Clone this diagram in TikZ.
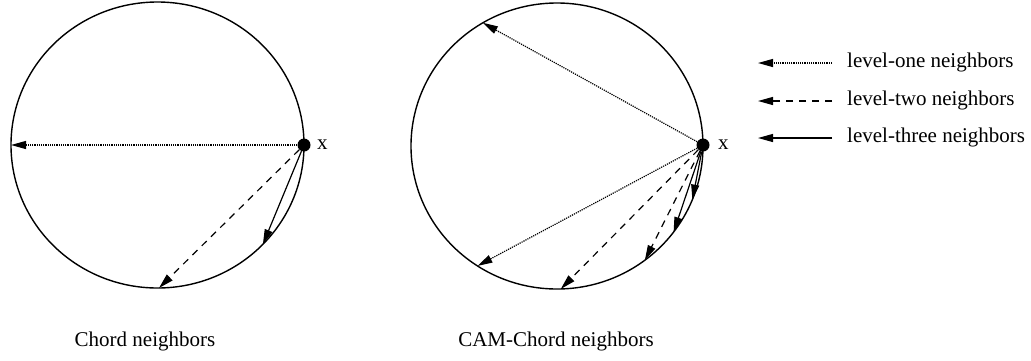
\documentclass[tikz,border=0pt]{standalone}
\usepackage{fontspec}
\setmainfont{Liberation Serif}
\usetikzlibrary{arrows.meta}
\begin{document}
\begin{tikzpicture}[x=1pt,y=-1pt,
  ring/.style={draw, line width=1.4pt},
  hub/.style={circle, fill=black, inner sep=0pt, minimum size=13pt},
  nb/.style={line width=1.2pt, -{Triangle[length=15pt,width=8pt]}},
  lone/.style={nb, dash pattern=on 1.2pt off 1pt},
  ltwo/.style={nb, dash pattern=on 7pt off 6pt},
  lthree/.style={nb},
  lbl/.style={font=\fontsize{21}{25}\selectfont, inner sep=0pt}]
\useasboundingbox (0,0) rectangle (1031,360);

% left ring
\coordinate (cl) at (157.5,145);
\draw[ring] (cl) ellipse [x radius=146.5pt, y radius=143pt];
\path (cl) ++(180:146.5pt and 143pt) coordinate (l1);
\path (cl) ++(-89.4:146.5pt and 143pt) coordinate (l2);
\path (cl) ++(-44:146.5pt and 143pt) coordinate (l3);
\node[hub] (xl) at (304,145) {};
\node[lbl, anchor=west] (xlab1) at (317,145) {x};
\draw[lone] (xl) -- (l1);
\draw[ltwo] (xl) -- (l2);
\draw[lthree] (xl) -- (l3);

% right ring
\coordinate (cr) at (557,146);
\draw[ring] (cr) ellipse [x radius=146pt, y radius=143pt];
\path (cr) ++(120.5:146pt and 143pt) coordinate (r1);
\path (cr) ++(-123:146pt and 143pt) coordinate (r2);
\path (cr) ++(-88.5:146pt and 143pt) coordinate (r3);
\path (cr) ++(-53:146pt and 143pt) coordinate (r4);
\path (cr) ++(-37:146pt and 143pt) coordinate (r5);
\path (cr) ++(-22:146pt and 143pt) coordinate (r6);
\node[hub] (xr) at (703,145) {};
\node[lbl, anchor=west] (xlab2) at (718,145) {x};
\draw[lone] (xr) -- (r1);
\draw[lone] (xr) -- (r2);
\draw[ltwo] (xr) -- (r3);
\draw[ltwo] (xr) -- (r4);
\draw[lthree] (xr) -- (r5);
\draw[lthree] (xr) -- (r6);

% legend
\coordinate (g1s) at (832,63);  \coordinate (g1e) at (758,63);
\coordinate (g2s) at (832,101); \coordinate (g2e) at (758,101);
\coordinate (g3s) at (832,138); \coordinate (g3e) at (758,138);
\draw[lone] (g1s) -- (g1e);
\draw[ltwo] (g2s) -- (g2e);
\draw[lthree] (g3s) -- (g3e);
\node[lbl, anchor=base west] (t1) at (847,67) {level-one neighbors};
\node[lbl, anchor=base west] (t2) at (847,105) {level-two neighbors};
\node[lbl, anchor=base west] (t3) at (847,142) {level-three neighbors};

% captions
\node[lbl, anchor=base] (capl) at (145,346) {Chord neighbors};
\node[lbl, anchor=base] (capr) at (556,346) {CAM-Chord neighbors};
\end{tikzpicture}
\end{document}
